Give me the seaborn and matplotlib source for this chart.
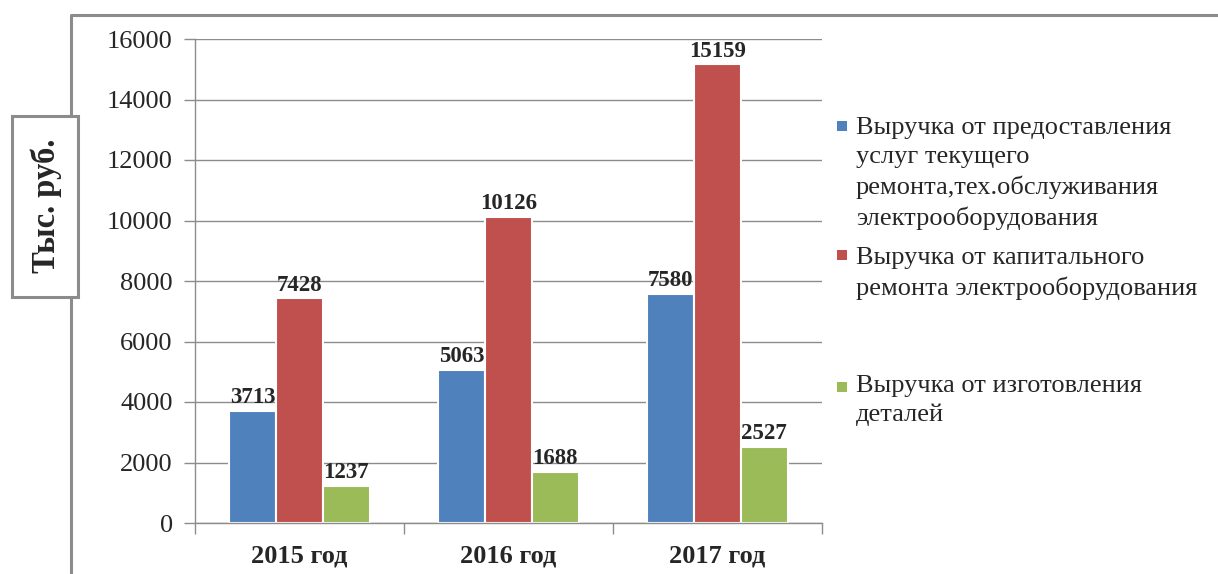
import numpy as np
import pandas as pd

import matplotlib.pyplot as plt
from matplotlib.patches import Rectangle
from matplotlib.lines import Line2D
from matplotlib.legend_handler import HandlerPatch

import seaborn as sns

YEARS = ['2015 год', '2016 год', '2017 год']
SERIES = ['Выручка от предоставления\nуслуг текущего\nремонта,тех.обслуживания\nэлектрооборудования',
          'Выручка от капитального\nремонта электрооборудования',
          'Выручка от изготовления\nдеталей']
SERVICE = [3713, 5063, 7580]
CAPITAL = [7428, 10126, 15159]
PARTS = [1237, 1688, 2527]
Y_TICKS = [0, 2000, 4000, 6000, 8000, 10000, 12000, 14000, 16000]
Y_LABEL = 'Тыс. руб.'

COLORS = ['#4F81BD', '#C0504D', '#9BBB59']
GRAY = '#8c8c8c'
W, H = 1218, 574


class TopSquare(HandlerPatch):
    '''legend square lifted to the first line of a multi-line label'''

    def __init__(self, lift):
        super().__init__()
        self.lift = lift

    def create_artists(self, legend, orig_handle, xdescent, ydescent,
                       width, height, fontsize, trans):
        size = 0.38 * fontsize
        p = Rectangle((-xdescent, -ydescent + self.lift * fontsize), size, size,
                      facecolor=orig_handle.get_facecolor(), edgecolor='none',
                      transform=trans)
        return [p]


def main():
    df = pd.DataFrame({
        'year': YEARS * 3,
        'series': [SERIES[0]] * 3 + [SERIES[1]] * 3 + [SERIES[2]] * 3,
        'value': SERVICE + CAPITAL + PARTS,
    })

    sns.set_theme(style='white')
    plt.rcParams['font.family'] = ['Liberation Serif', 'DejaVu Serif']

    fig = plt.figure(figsize=(W / 100, H / 100), dpi=100)
    ax = fig.add_axes([195 / W, 1 - 523 / H, (822 - 195) / W, (523 - 39) / H])

    sns.barplot(data=df, x='year', y='value', hue='series', palette=COLORS,
                width=0.67, edgecolor='white', linewidth=1.5, legend=False,
                saturation=1, ax=ax)

    for c in ax.containers:
        ax.bar_label(c, fmt='%d', padding=2, fontweight='bold', fontsize=16.5)

    ax.set_ylim(0, 16000)
    ax.set_yticks(Y_TICKS)
    ax.set_xlim(-0.5, 2.5)
    ax.set_xticks([-0.5, 0.5, 1.5, 2.5], minor=True)
    ax.tick_params(axis='x', which='major', length=0, pad=15.5, labelsize=19)
    ax.tick_params(axis='x', which='minor', length=8, width=1, color=GRAY,
                   direction='out', bottom=True)
    ax.tick_params(axis='y', length=8, width=1, color=GRAY, direction='out',
                   left=True, labelsize=19, pad=8)
    for lbl in ax.get_xticklabels():
        lbl.set_fontweight('bold')
    ax.set_xlabel('')
    ax.set_ylabel('')
    ax.grid(axis='y', color=GRAY, lw=1)
    ax.set_axisbelow(True)
    for s in ['top', 'right']:
        ax.spines[s].set_visible(False)
    for s in ['left', 'bottom']:
        ax.spines[s].set_color(GRAY)
        ax.spines[s].set_linewidth(1)

    # outer chart frame (left and top edges)
    fig.add_artist(Line2D([71 / W, 71 / W, 1], [0, 1 - 15 / H, 1 - 15 / H],
                          color=GRAY, lw=2.2, transform=fig.transFigure))
    # boxed axis title
    fig.add_artist(Rectangle((12 / W, 1 - 297 / H), 66 / W, 181 / H,
                             transform=fig.transFigure, facecolor='white',
                             edgecolor=GRAY, lw=2.2, zorder=3))
    fig.text(46 / W, 1 - 206 / H, Y_LABEL, rotation=90, ha='center',
             va='center', fontsize=23.5, fontweight='bold', zorder=4)

    handles = [Rectangle((0, 0), 1, 1, facecolor=c) for c in COLORS]
    labels = [SERIES[0], SERIES[1] + '\n\n', SERIES[2]]
    lifts = [1.92, 1.92, 0.64]
    leg = fig.legend(handles, labels, loc='upper left',
                     bbox_to_anchor=(824 / W, 1 - 104 / H), frameon=False,
                     fontsize=19, handlelength=0.45, handleheight=0.7,
                     handletextpad=0.25, labelspacing=0.65, borderpad=0,
                     handler_map={h: TopSquare(l) for h, l in zip(handles, lifts)})
    for t in leg.get_texts():
        t.set_linespacing(1.4)

    plt.savefig('out.png', dpi=100)


if __name__ == "__main__":
    main()
